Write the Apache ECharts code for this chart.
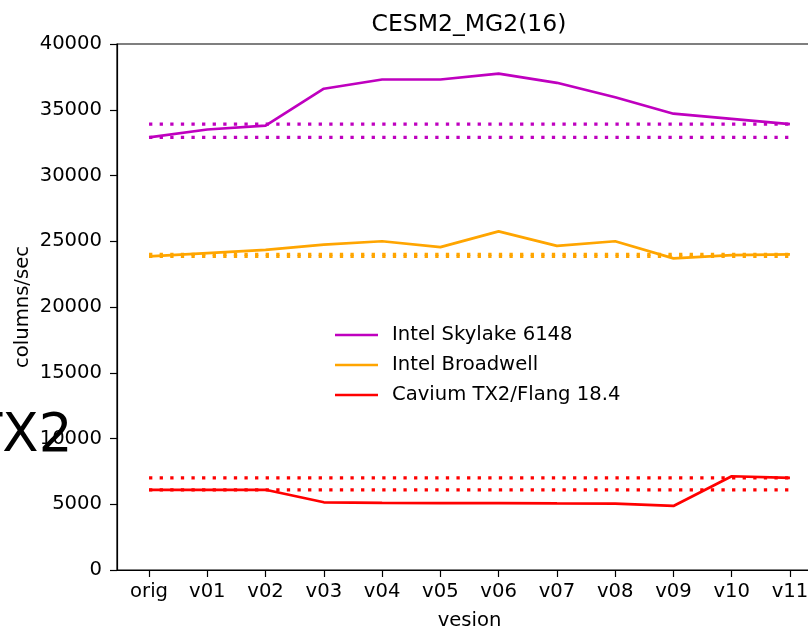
<!DOCTYPE html>
<html>
<head>
<meta charset="utf-8">
<script src="https://cdn.jsdelivr.net/npm/echarts@6/dist/echarts.min.js"></script>
<style>
html,body{margin:0;padding:0;background:#fff;}
#chart{width:808px;height:628px;}
</style>
</head>
<body>
<div id="chart"></div>
<script>
const categories = ['orig','v01','v02','v03','v04','v05','v06','v07','v08','v09','v10','v11'];
const skylake   = [32900, 33500, 33800, 36600, 37300, 37300, 37750, 37050, 35950, 34700, 34300, 33900];
const broadwell = [23850, 24100, 24350, 24750, 25000, 24550, 25750, 24650, 25000, 23700, 23950, 24000];
const caviumTX2 = [6100, 6100, 6100, 5150, 5100, 5080, 5090, 5060, 5050, 4870, 7130, 7000];
const yTicks = [0, 5000, 10000, 15000, 20000, 25000, 30000, 35000, 40000];

const FONT = 'DejaVu Sans';
const FS = 19.6;
const names = ['Intel Skylake 6148', 'Intel Broadwell', 'Cavium TX2/Flang 18.4'];
const colors = ['#bf00bf', '#ffa500', '#ff0000'];
const sets = [skylake, broadwell, caviumTX2];

const idx = categories.map((c, i) => i);
const series = [];
sets.forEach((vals, k) => {
  series.push({
    name: names[k], type: 'line', symbol: 'none', z: 3,
    data: vals.map((v, i) => [i, v]),
    lineStyle: { color: colors[k], width: 2.7 },
    itemStyle: { color: colors[k] },
    animation: false
  });
  [vals[0], vals[vals.length - 1]].forEach(ref => {
    series.push({
      name: names[k] + ' ref', type: 'line', symbol: 'none', z: 2,
      data: [[0, ref], [categories.length - 1, ref]],
      lineStyle: { color: colors[k], width: 3.3, type: [3.3, 7.3], cap: 'butt' },
      itemStyle: { color: colors[k] },
      animation: false, silent: true
    });
  });
});

const chart = echarts.init(document.getElementById('chart'), null, { renderer: 'canvas' });
chart.setOption({
  animation: false,
  backgroundColor: '#fff',
  textStyle: { fontFamily: FONT },
  title: {
    text: 'CESM2_MG2(16)', left: 464, top: 8, textAlign: 'center',
    textStyle: { fontFamily: FONT, fontSize: 23.5, fontWeight: 'normal', color: '#000' }
  },
  grid: {
    left: 117, top: 44, width: 705, height: 526,
    outerBoundsMode: 'none', containLabel: false,
    show: true, borderColor: '#000', borderWidth: 1.2, backgroundColor: 'transparent'
  },
  legend: {
    data: names, orient: 'vertical', left: 335, top: 324, padding: 0,
    itemWidth: 43, itemHeight: 2.7, itemGap: 8, icon: 'rect',
    textStyle: { fontFamily: FONT, fontSize: FS, color: '#000', padding: [0, 0, 0, 9], lineHeight: 22 }
  },
  xAxis: {
    type: 'value', min: -0.55, max: 11.55,
    name: 'vesion', nameLocation: 'middle', nameGap: 41, nameMoveOverlap: false,
    nameTextStyle: { fontFamily: FONT, fontSize: FS, color: '#000' },
    splitLine: { show: false },
    axisLine: { show: true, onZero: false, lineStyle: { color: '#000', width: 1.2 } },
    axisTick: { show: true, customValues: idx, length: 7, lineStyle: { color: '#000', width: 1.2 } },
    axisLabel: {
      customValues: idx, margin: 12, fontFamily: FONT, fontSize: FS, color: '#000',
      formatter: v => categories[Math.round(v)]
    }
  },
  yAxis: {
    type: 'value', min: 0, max: 40000, interval: 5000,
    name: 'columns/sec', nameLocation: 'middle', nameGap: 84, nameRotate: 90, nameMoveOverlap: false,
    nameTextStyle: { fontFamily: FONT, fontSize: FS, color: '#000' },
    splitLine: { show: false },
    axisLine: { show: true, onZero: false, lineStyle: { color: '#000', width: 1.2 } },
    axisTick: { show: true, length: 7, lineStyle: { color: '#000', width: 1.2 } },
    axisLabel: { margin: 15, fontFamily: FONT, fontSize: FS, color: '#000',
      formatter: v => yTicks.includes(v) ? String(v) : '' }
  },
  graphic: [{
    type: 'text', left: -30, top: 411, z: 100,
    style: { text: 'TX2', font: '53px "DejaVu Sans"', fill: '#000' }
  }],
  series: series
});
</script>
</body>
</html>
